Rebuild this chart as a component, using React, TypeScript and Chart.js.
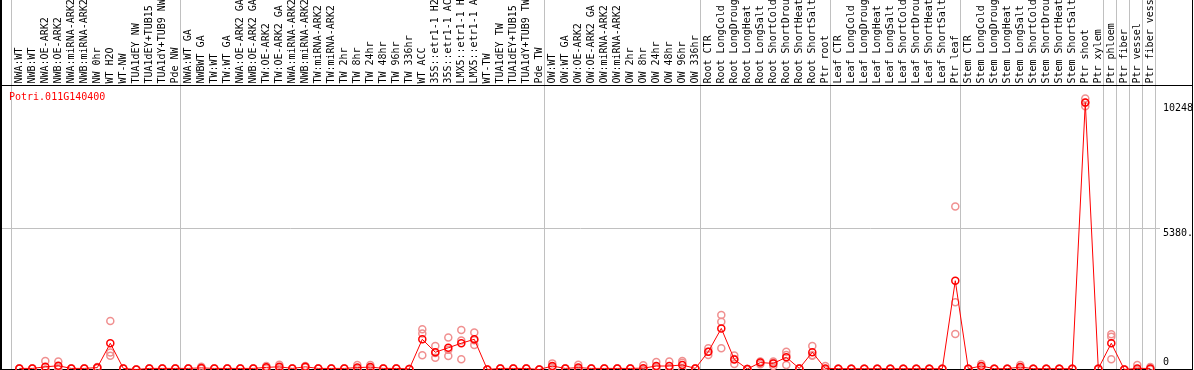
import React, { useEffect, useRef } from 'react';
import { Chart, registerables } from 'chart.js';

Chart.register(...registerables);

const geneId = 'Potri.011G140400';

const sampleLabels = [
  'NWA:WT', 'NWB:WT', 'NWA:OE-ARK2', 'NWB:OE-ARK2', 'NWA:miRNA-ARK2', 'NWB:miRNA-ARK2',
  'NW 0hr', 'WT H2O', 'WT-NW', 'TUA1dEY NW', 'TUA1dEY+TUB15 NW', 'TUA1dY+TUB9 NW', 'Pde NW',
  'NWA:WT GA', 'NWBWT GA', 'TW:WT', 'TW:WT GA', 'NWA:OE-ARK2 GA', 'NWB:OE-ARK2 GA',
  'TW:OE-ARK2', 'TW:OE-ARK2 GA', 'NWA:miRNA-ARK2 GA', 'NWB:miRNA-ARK2 GA', 'TW:miRNA-ARK2',
  'TW:miRNA-ARK2 GA', 'TW 2hr', 'TW 8hr', 'TW 24hr', 'TW 48hr', 'TW 96hr', 'TW 336hr',
  'WT ACC', '35S::etr1-1 H2O', '35S::etr1-1 ACC', 'LMX5::etr1-1 H2O', 'LMX5::etr1-1 ACC',
  'WT-TW', 'TUA1dEY TW', 'TUA1dEY+TUB15 TW', 'TUA1dY+TUB9 TW', 'Pde TW',
  'OW:WT', 'OW:WT GA', 'OW:OE-ARK2', 'OW:OE-ARK2 GA', 'OW:miRNA-ARK2', 'OW:miRNA-ARK2 GA',
  'OW 2hr', 'OW 8hr', 'OW 24hr', 'OW 48hr', 'OW 96hr', 'OW 336hr',
  'Root CTR', 'Root LongCold', 'Root LongDrought', 'Root LongHeat', 'Root LongSalt',
  'Root ShortCold', 'Root ShortDrought', 'Root ShortHeat', 'Root ShortSalt', 'Ptr root',
  'Leaf CTR', 'Leaf LongCold', 'Leaf LongDrought', 'Leaf LongHeat', 'Leaf LongSalt',
  'Leaf ShortCold', 'Leaf ShortDrought', 'Leaf ShortHeat', 'Leaf ShortSalt', 'Ptr leaf',
  'Stem CTR', 'Stem LongCold', 'Stem LongDrought', 'Stem LongHeat', 'Stem LongSalt',
  'Stem ShortCold', 'Stem ShortDrought', 'Stem ShortHeat', 'Stem ShortSalt', 'Ptr shoot',
  'Ptr xylem', 'Ptr phloem', 'Ptr fiber', 'Ptr vessel', 'Ptr fiber vessel',
];

const meanValues = [
  60, 60, 120, 160, 60, 60, 90, 1010, 60, 20, 60, 60, 60,
  60, 80, 60, 60, 60, 60, 100, 120, 60, 120, 60, 60, 60, 90, 110, 60, 60, 40,
  1160, 670, 840, 1010, 1160, 20, 60, 60, 60, 20,
  150, 60, 90, 60, 60, 60, 60, 70, 150, 150, 190, 60,
  690, 1570, 400, 40, 280, 250, 480, 60, 670, 60,
  50, 50, 50, 50, 50, 50, 50, 50, 50, 3370,
  50, 150, 50, 50, 110, 50, 50, 50, 50, 10100,
  50, 1010, 20, 60, 60,
];

const replicate1 = [
  60, 60, 340, 320, 60, 60, 110, 1850, 60, 20, 60, 60, 60,
  60, 120, 60, 60, 60, 60, 150, 200, 60, 150, 60, 60, 60, 190, 190, 60, 60, 40,
  1540, 910, 1230, 1510, 1420, 20, 60, 60, 60, 20,
  250, 60, 200, 60, 60, 60, 60, 180, 300, 320, 340, 60,
  820, 2080, 550, 40, 320, 320, 690, 60, 910, 150,
  50, 50, 50, 50, 50, 50, 50, 50, 50, 6170,
  50, 230, 50, 50, 190, 50, 50, 50, 50, 10248,
  50, 1350, 20, 190, 110,
];

const replicate2 = [
  60, 60, 20, 130, 60, 60, 90, 660, 60, 20, 60, 60, 60,
  60, 70, 60, 60, 60, 60, 90, 100, 60, 120, 60, 60, 60, 50, 90, 60, 60, 40,
  1380, 640, 760, 1110, 1120, 20, 60, 60, 60, 20,
  120, 60, 50, 60, 60, 60, 60, 20, 100, 80, 270, 60,
  690, 1820, 420, 40, 300, 280, 570, 60, 560, 30,
  50, 50, 50, 50, 50, 50, 50, 50, 50, 2560,
  50, 140, 50, 50, 90, 50, 50, 50, 50, 10090,
  50, 1260, 20, 0, 50,
];

const replicate3 = [
  60, 60, 0, 30, 60, 60, 70, 540, 60, 20, 60, 60, 60,
  60, 50, 60, 60, 60, 60, 60, 60, 60, 90, 60, 60, 60, 30, 50, 60, 60, 40,
  560, 460, 530, 410, 940, 20, 60, 60, 60, 20,
  80, 60, 20, 60, 60, 60, 60, 10, 50, 50, 0, 60,
  570, 820, 230, 40, 220, 150, 190, 60, 540, 0,
  50, 50, 50, 50, 50, 50, 50, 50, 50, 1360,
  50, 80, 50, 50, 50, 50, 50, 50, 50, 9960,
  50, 410, 20, 0, 20,
];

// indices of the first sample of each block (last entry closes the final block)
const groupStarts = [0, 13, 41, 53, 63, 73, 84, 85, 86, 87, 88];

const yTickValues = [10248, 5380.2, 0];
const yTickLabels = ['10248', '5380.', '0'];
const yMax = 10760.4;

const MONO = '10px "DejaVu Sans Mono", "Liberation Mono", monospace';

const overlayPlugin = {
  id: 'efpOverlay',
  beforeDatasetsDraw(chart: any) {
    const { ctx, chartArea, scales } = chart;
    const x = scales.x;
    const y = scales.y;
    ctx.save();
    // vertical group separators
    ctx.strokeStyle = '#c0c0c0';
    ctx.lineWidth = 1;
    groupStarts.forEach((g) => {
      const px = Math.round(x.getPixelForValue(g - 0.64)) + 0.5;
      ctx.beginPath();
      ctx.moveTo(px, 0);
      ctx.lineTo(px, chartArea.bottom - 1);
      ctx.stroke();
    });
    // middle horizontal grid line
    const gy = Math.round(y.getPixelForValue(yTickValues[1])) + 0.5;
    ctx.beginPath();
    ctx.moveTo(chartArea.left, gy);
    ctx.lineTo(1160, gy);
    ctx.stroke();
    // frame
    ctx.fillStyle = '#000000';
    ctx.fillRect(0, 0, 2, chartArea.bottom);
    ctx.fillRect(chartArea.right - 1, 0, 1, chartArea.bottom);
    ctx.fillRect(0, chartArea.top, chartArea.right, 1);
    ctx.fillRect(0, chartArea.bottom - 1, chartArea.right, 1);
    ctx.restore();
  },
  afterDatasetsDraw(chart: any) {
    const { ctx, chartArea, scales } = chart;
    const x = scales.x;
    const y = scales.y;
    ctx.save();
    ctx.font = MONO;
    // sample labels (rotated)
    ctx.fillStyle = '#000000';
    ctx.textAlign = 'left';
    ctx.textBaseline = 'middle';
    sampleLabels.forEach((lab, i) => {
      const px = x.getPixelForValue(i);
      ctx.save();
      ctx.translate(px, chartArea.top - 1.5);
      ctx.rotate(-Math.PI / 2);
      ctx.fillText(lab, 0, 0);
      ctx.restore();
    });
    // gene id
    ctx.fillStyle = '#ff0000';
    ctx.textBaseline = 'alphabetic';
    ctx.fillText(geneId, 9, chartArea.top + 15);
    // y labels
    ctx.fillStyle = '#000000';
    const offsets = [12, 8.5, -5];
    yTickValues.forEach((v, i) => {
      ctx.fillText(yTickLabels[i], 1163, y.getPixelForValue(v) + offsets[i]);
    });
    ctx.restore();
  },
};

export default function App() {
  const canvasRef = useRef<HTMLCanvasElement | null>(null);

  useEffect(() => {
    document.body.style.margin = '0';
    const canvas = canvasRef.current;
    if (!canvas) return;
    const toPts = (arr: number[]) => arr.map((v, i) => ({ x: i, y: v }));
    const repStyle = {
      showLine: false,
      pointRadius: 3.5,
      pointBorderWidth: 1.5,
      pointBorderColor: '#f09090',
      pointBackgroundColor: 'rgba(0,0,0,0)',
      borderColor: '#f09090',
      clip: false as any,
    };
    const chart = new Chart(canvas, {
      type: 'line',
      data: {
        datasets: [
          {
            label: 'mean',
            data: toPts(meanValues),
            borderColor: '#ff0000',
            borderWidth: 1,
            pointRadius: 3.5,
            pointBorderWidth: 1.5,
            pointBorderColor: '#ff0000',
            pointBackgroundColor: 'rgba(0,0,0,0)',
            tension: 0,
            fill: false,
            clip: false as any,
          },
          { label: 'rep1', data: toPts(replicate1), ...repStyle },
          { label: 'rep2', data: toPts(replicate2), ...repStyle },
          { label: 'rep3', data: toPts(replicate3), ...repStyle },
        ],
      },
      options: {
        responsive: false,
        animation: false,
        devicePixelRatio: 1,
        events: [],
        layout: { autoPadding: false, padding: { top: 85, left: 1, right: 1, bottom: 0 } },
        scales: {
          x: { type: 'linear', min: -1.408, max: 90.285, display: false },
          y: { type: 'linear', min: 0, max: yMax, display: false },
        },
        plugins: {
          legend: { display: false },
          tooltip: { enabled: false },
        },
      },
      plugins: [overlayPlugin],
    });
    return () => chart.destroy();
  }, []);

  return (
    <div style={{ width: 1194, height: 370, background: '#ffffff' }}>
      <canvas ref={canvasRef} width={1194} height={370} style={{ display: 'block' }} />
    </div>
  );
}
